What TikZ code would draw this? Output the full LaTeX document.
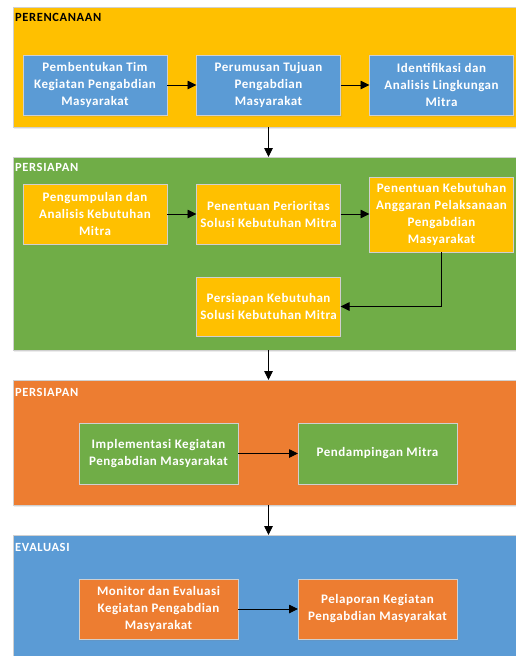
\documentclass[tikz,border=0pt]{standalone}
\usepackage{fontspec}
\setmainfont{Carlito}
\newfontfamily\boxfont[LetterSpace=4]{Carlito}
\newfontfamily\ttlfont[LetterSpace=5]{Carlito}
\usetikzlibrary{arrows.meta,shadows}
\definecolor{yel}{HTML}{FFC000}
\definecolor{grn}{HTML}{70AD47}
\definecolor{org}{HTML}{ED7D31}
\definecolor{blu}{HTML}{5B9BD5}
\definecolor{edge}{HTML}{D0D0D0}
\tikzset{
  panel/.style={draw=edge, line width=0.8pt, anchor=north west, minimum width=507pt, outer sep=0pt,
    drop shadow={opacity=0.15, shadow xshift=1pt, shadow yshift=-2pt}},
  box/.style={draw=edge, line width=0.8pt, text=white, font=\boxfont\bfseries\fontsize{13}{17}\selectfont,
    align=center, minimum width=144pt, minimum height=60pt, inner sep=1pt, outer sep=0pt,
    drop shadow={opacity=0.15, shadow xshift=1pt, shadow yshift=-1.5pt}},
  wbox/.style={box, minimum width=159pt, minimum height=61pt},
  ttl/.style={anchor=west, font=\ttlfont\bfseries\fontsize{12.5}{14}\selectfont, inner sep=0pt},
  arr/.style={-{Triangle[length=9pt,width=8.5pt]}, line width=0.9pt, black}
}
\begin{document}
\begin{tikzpicture}[x=1pt,y=-1pt]
\useasboundingbox (0,0) rectangle (516,656);
% panels
\node[panel, fill=yel, minimum height=120pt] (p1) at (13,7) {};
\node[panel, fill=grn, minimum height=193pt] (p2) at (13,157) {};
\node[panel, fill=org, minimum height=125pt] (p3) at (13,380) {};
\node[panel, fill=blu, minimum height=130pt] (p4) at (13,535) {};
% titles
\node[ttl, text=black] (t1) at (15,17.5) {PERENCANAAN};
\node[ttl, text=white] (t2) at (15,167.5) {PERSIAPAN};
\node[ttl, text=white] (t3) at (15,392) {PERSIAPAN};
\node[ttl, text=white] (t4) at (15,547) {EVALUASI};
% panel 1
\node[box, fill=blu] (a1) at (95,85) {Pembentukan Tim\\Kegiatan Pengabdian\\Masyarakat};
\node[box, fill=blu] (a2) at (268.5,85) {Perumusan Tujuan\\Pengabdian\\Masyarakat};
\node[box, fill=blu] (a3) at (441.5,85) {Identifikasi dan\\Analisis Lingkungan\\Mitra};
% panel 2
\node[box, fill=yel] (b1) at (95,214) {Pengumpulan dan\\Analisis Kebutuhan\\Mitra};
\node[box, fill=yel] (b2) at (268.5,214) {Penentuan Perioritas\\Solusi Kebutuhan Mitra};
\node[box, fill=yel, minimum height=75pt] (b3) at (441.5,214.5) {Penentuan Kebutuhan\\Anggaran Pelaksanaan\\Pengabdian\\Masyarakat};
\node[box, fill=yel, minimum height=59pt] (b4) at (268.5,306.5) {Persiapan Kebutuhan\\Solusi Kebutuhan Mitra};
% panel 3
\node[wbox, fill=grn] (c1) at (158.5,453.5) {Implementasi Kegiatan\\Pengabdian Masyarakat};
\node[wbox, fill=grn] (c2) at (377.5,453.5) {Pendampingan Mitra};
% panel 4
\node[wbox, fill=org, minimum height=60pt] (d1) at (158.5,609) {Monitor dan Evaluasi\\Kegiatan Pengabdian\\Masyarakat};
\node[wbox, fill=org, minimum height=60pt] (d2) at (377.5,609) {Pelaporan Kegiatan\\Pengabdian Masyarakat};
% arrows
\draw[arr] (a1) -- (a2);
\draw[arr] (a2) -- (a3);
\draw[arr] (b1) -- (b2);
\draw[arr] (b2) -- (b3.west |- b2);
\draw[arr] (b3.south) |- (b4.east);
\draw[arr] (c1) -- (c2);
\draw[arr] (d1) -- (d2);
\draw[arr] (p1.south -| a2) -- (p2.north -| a2);
\draw[arr] (p2.south -| a2) -- (p3.north -| a2);
\draw[arr] (p3.south -| a2) -- (p4.north -| a2);
\end{tikzpicture}
\end{document}
